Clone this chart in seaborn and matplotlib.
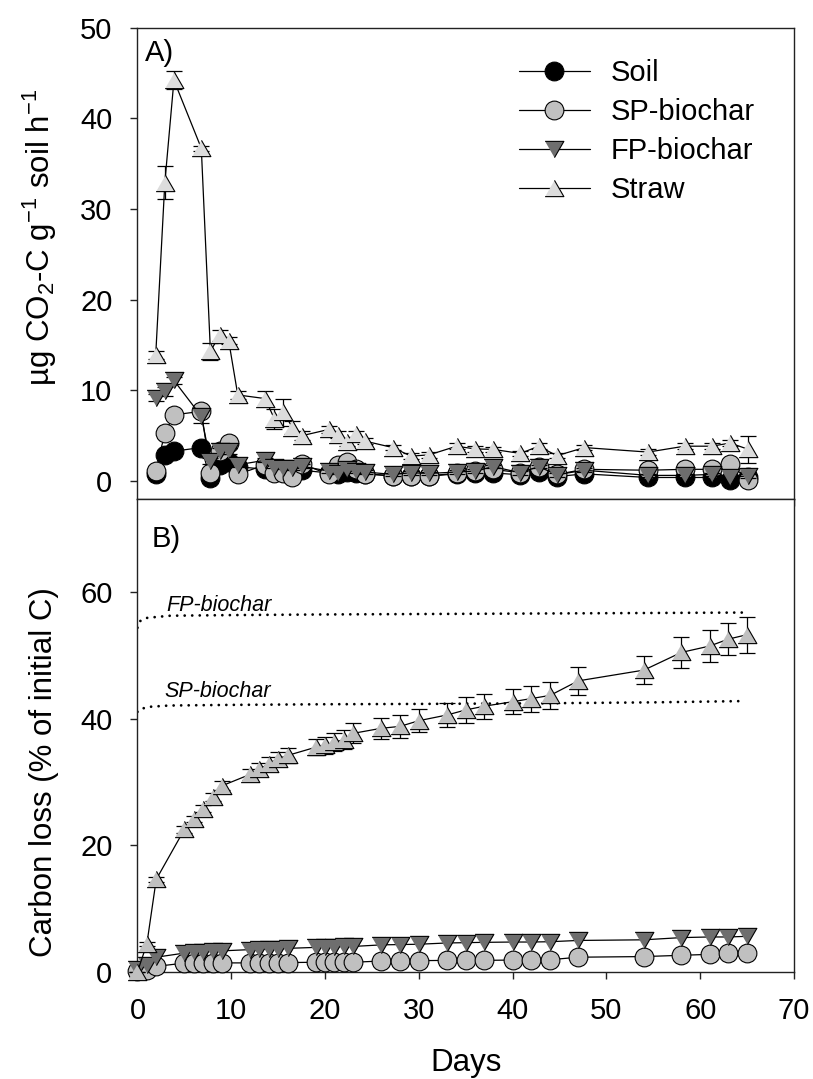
import numpy as np
import pandas as pd
import matplotlib
matplotlib.use("Agg")
import matplotlib.pyplot as plt
from matplotlib.lines import Line2D
from matplotlib.markers import MarkerStyle
import seaborn as sns

# ---------------- data ----------------
days = [0, 1, 2, 5, 6, 7, 8, 9, 12, 13, 14, 15, 16, 19, 20, 21, 22, 23,
        26, 28, 30, 33, 35, 37, 40, 42, 44, 47, 54, 58, 61, 63, 65]

# Panel A: CO2-C respiration rate
soil_rate = [0.8, 2.9, 3.3, 3.7, 0.3, 1.8, 2.1, 1.6, 1.3, 1.2, 1.1, 1.1, 1.2, 0.9, 0.8, 1.0, 0.9, 0.8,
             0.6, 0.6, 0.55, 0.8, 0.9, 0.9, 0.7, 1.0, 0.5, 0.8, 0.4, 0.4, 0.4, 0.1, 0.4]
sp_rate = [1.1, 5.3, 7.3, 7.7, 0.9, 3.3, 4.2, 0.74, 1.8, 0.9, 0.9, 0.5, 1.9, 0.74, 1.8, 2.1, 1.3, 0.8,
           0.55, 0.6, 0.6, 0.85, 1.1, 1.3, 0.92, 1.6, 0.74, 1.3, 1.2, 1.3, 1.3, 1.9, 0.1]
fp_rate = [9.2, 9.9, 11.1, 7.15, 2.2, 3.3, 3.3, 1.8, 2.3, 1.6, 1.5, 1.4, 1.65, 1.1, 0.93, 1.3, 1.1, 1.0,
           0.74, 0.92, 0.85, 1.0, 1.1, 1.6, 0.92, 1.6, 0.7, 1.2, 0.63, 0.63, 0.74, 0.48, 0.55]
straw_rate = [13.9, 32.9, 44.2, 36.7, 14.3, 16.1, 15.5, 9.5, 9.1, 6.9, 7.6, 5.9, 5.0, 5.7, 5.1, 4.3, 5.2, 4.4,
              3.7, 2.75, 2.9, 3.85, 3.55, 3.5, 3.05, 3.85, 2.8, 3.7, 3.2, 3.85, 3.85, 4.2, 3.5]
soil_rate_err = [0.1] * 33
sp_rate_err = [0.2, 0.3, 0.3, 0.5, 0.2, 0.3, 0.3, 0.2, 0.2, 0.2, 0.2, 0.2, 0.2, 0.2, 0.2, 0.2, 0.2, 0.2,
               0.2, 0.2, 0.2, 0.2, 0.2, 0.2, 0.2, 0.2, 0.2, 0.2, 0.2, 0.2, 0.2, 0.3, 0.2]
fp_rate_err = [0.4, 0.5, 0.4, 0.75, 0.3, 0.3, 0.3, 0.2, 0.2, 0.2, 0.2, 0.2, 0.2, 0.2, 0.2, 0.2, 0.2, 0.2,
               0.2, 0.2, 0.2, 0.2, 0.2, 0.2, 0.2, 0.2, 0.2, 0.2, 0.2, 0.2, 0.2, 0.2, 0.2]
straw_rate_err = [0.4, 1.8, 1.0, 0.3, 0.9, 0.6, 0.4, 0.4, 0.8, 1.1, 1.5, 0.7, 0.5, 0.4, 0.4, 0.4, 0.3, 0.3,
                  0.3, 0.3, 0.3, 0.3, 0.3, 0.3, 0.3, 0.3, 0.3, 0.3, 0.3, 0.3, 0.3, 0.3, 1.5]

# Panel B: cumulative carbon loss (% of initial C)
sp_cum = [0.1, 0.3, 0.85, 1.37, 1.37, 1.4, 1.4, 1.4, 1.4, 1.4, 1.45, 1.45, 1.45, 1.5, 1.5, 1.5, 1.5, 1.5,
          1.7, 1.7, 1.75, 1.8, 1.8, 1.8, 1.85, 1.85, 1.9, 2.3, 2.4, 2.6, 2.75, 2.9, 2.95]
fp_cum = [0.4, 1.0, 2.3, 2.95, 3.1, 3.2, 3.3, 3.3, 3.5, 3.55, 3.6, 3.65, 3.7, 3.85, 3.9, 3.95, 4.0, 4.0,
          4.25, 4.3, 4.35, 4.55, 4.6, 4.65, 4.7, 4.7, 4.75, 4.95, 5.05, 5.4, 5.5, 5.5, 5.6]
straw_cum = [0.0, 4.4, 14.6, 22.5, 24.2, 25.8, 27.6, 29.4, 31.2, 32.0, 32.9, 33.7, 34.2, 35.5, 35.8, 36.3, 36.7, 37.7,
             38.5, 38.8, 39.7, 40.6, 41.4, 42.0, 42.7, 43.2, 43.7, 46.0, 47.7, 50.5, 51.5, 52.6, 53.3]
straw_cum_err = [0.0, 0.3, 0.4, 0.5, 0.5, 0.6, 0.6, 0.7, 0.9, 1.0, 1.0, 1.1, 1.2, 1.3, 1.3, 1.4, 1.5, 1.6,
                 1.7, 1.8, 1.85, 1.9, 2.0, 2.0, 2.0, 2.05, 2.1, 2.2, 2.2, 2.5, 2.5, 2.5, 2.85]

# Reference (dotted) curves: biochar carbon loss
fp_ref_x = [0, 0.1, 0.25, 0.5, 1, 2, 3.5, 10, 20, 35, 50, 64.5]
fp_ref_y = [54.4, 55.0, 55.4, 55.7, 55.95, 56.1, 56.3, 56.4, 56.5, 56.6, 56.7, 56.8]
sp_ref_x = [0, 0.15, 0.45, 1.3, 3.4, 10, 20, 30, 43, 55, 64.5]
sp_ref_y = [41.1, 41.4, 41.6, 41.9, 42.1, 42.2, 42.3, 42.35, 42.45, 42.6, 42.8]

series_names = ["Soil", "SP-biochar", "FP-biochar", "Straw"]

# ---------------- style ----------------
sns.set_theme(style="ticks")
plt.rcParams["font.family"] = ["Liberation Sans", "DejaVu Sans"]
plt.rcParams["mathtext.fontset"] = "custom"
plt.rcParams["mathtext.rm"] = "Liberation Sans"
plt.rcParams["mathtext.it"] = "Liberation Sans:italic"
plt.rcParams["mathtext.bf"] = "Liberation Sans:bold"
plt.rcParams["mathtext.default"] = "regular"
for key in ("text.color", "axes.labelcolor", "xtick.color", "ytick.color", "axes.edgecolor"):
    plt.rcParams[key] = "black"

FS = 21
FS_LAB = 22.5
TRI_UP = MarkerStyle([(-1, -0.866), (1, -0.866), (0, 0.866)])
TRI_DN = MarkerStyle([(-1, 0.866), (1, 0.866), (0, -0.866)])
MS = 13.5

C_SOIL = "#000000"
C_SP = "#c0c0c0"
C_FP = "#6e6e6e"
C_STRAW_A = "#dcdcdc"
C_STRAW_B = "#c0c0c0"


def plot_series(ax, x, y, err, marker, face, z, clip):
    df = pd.DataFrame({"x": x, "y": y})
    sns.lineplot(data=df, x="x", y="y", ax=ax, color="black", linewidth=0.9,
                 marker=marker, markersize=MS, markerfacecolor=face,
                 markeredgecolor="black", markeredgewidth=0.8,
                 errorbar=None, sort=False, legend=False, zorder=z, clip_on=clip)
    if err is not None:
        ax.errorbar(x, y, yerr=err, fmt="none", ecolor="black", elinewidth=0.9,
                    capsize=6, capthick=0.9, zorder=z - 0.5, clip_on=clip)


fig = plt.figure(figsize=(8.13, 10.79), dpi=100)
axA = fig.add_axes([0.1691, 0.5373, 0.8075, 0.4371])
axB = fig.add_axes([0.1691, 0.0994, 0.8075, 0.4378])

# ---------------- panel A ----------------
plot_series(axA, days, soil_rate, soil_rate_err, "o", C_SOIL, 3, False)
plot_series(axA, days, sp_rate, sp_rate_err, "o", C_SP, 4, False)
plot_series(axA, days, fp_rate, fp_rate_err, TRI_DN, C_FP, 5, False)
plot_series(axA, days, straw_rate, straw_rate_err, TRI_UP, C_STRAW_A, 6, False)

axA.set_xlim(-2, 70)
axA.set_ylim(-2, 50)
axA.set_xticks(np.arange(0, 71, 10))
axA.set_yticks(np.arange(0, 51, 10))
axA.tick_params(axis="x", labelbottom=False)
axA.set_xlabel("")
axA.set_ylabel(r"µg CO$_2$-C g$^{-1}$ soil h$^{-1}$", fontsize=FS_LAB)
axA.text(0.012, 0.975, "A)", transform=axA.transAxes, fontsize=FS, ha="left", va="top")

handles = [
    Line2D([], [], color="black", lw=0.9, marker="o", ms=MS, mfc=C_SOIL, mec="black", mew=0.8),
    Line2D([], [], color="black", lw=0.9, marker="o", ms=MS, mfc=C_SP, mec="black", mew=0.8),
    Line2D([], [], color="black", lw=0.9, marker=TRI_DN, ms=MS, mfc=C_FP, mec="black", mew=0.8),
    Line2D([], [], color="black", lw=0.9, marker=TRI_UP, ms=MS, mfc=C_STRAW_A, mec="black", mew=0.8),
]
axA.legend(handles, series_names, loc="upper left", bbox_to_anchor=(0.5806, 0.934),
           frameon=False, fontsize=FS, handlelength=2.45, handletextpad=0.7,
           labelspacing=0.38, borderaxespad=0, borderpad=0)

# ---------------- panel B ----------------
axB.plot(fp_ref_x, fp_ref_y, color="black", lw=2.0, dashes=(0.01, 2.7),
         dash_capstyle="round", zorder=2)
axB.plot(sp_ref_x, sp_ref_y, color="black", lw=2.0, dashes=(0.01, 2.7),
         dash_capstyle="round", zorder=2)
axB.text(3.1, 57.1, "FP-biochar", fontsize=15.5, style="italic", ha="left", va="baseline")
axB.text(2.9, 43.5, "SP-biochar", fontsize=15.5, style="italic", ha="left", va="baseline")

plot_series(axB, days, sp_cum, None, "o", C_SP, 4, False)
plot_series(axB, days, fp_cum, None, TRI_DN, C_FP, 5, False)
plot_series(axB, days, straw_cum, straw_cum_err, TRI_UP, C_STRAW_B, 6, False)

axB.set_xlim(0, 70)
axB.set_ylim(0, 74.7)
axB.set_xticks(np.arange(0, 71, 10))
axB.set_yticks([0, 20, 40, 60])
axB.set_xlabel("Days", fontsize=FS_LAB, labelpad=17)
axB.set_ylabel("Carbon loss (% of initial C)", fontsize=FS_LAB)
axB.text(0.021, 0.945, "B)", transform=axB.transAxes, fontsize=FS, ha="left", va="top")

for ax in (axA, axB):
    for s in ax.spines.values():
        s.set_visible(True)
        s.set_color("#222222")
        s.set_linewidth(1.0)
    ax.tick_params(direction="out", length=5, width=1.0, color="#222222",
                   pad=13, labelsize=FS, labelcolor="black", top=False, right=False)
    ax.grid(False)

axA.yaxis.set_label_coords(-0.12, 0.556)
axB.yaxis.set_label_coords(-0.12, 0.423)

fig.savefig("out.png", dpi=100)
